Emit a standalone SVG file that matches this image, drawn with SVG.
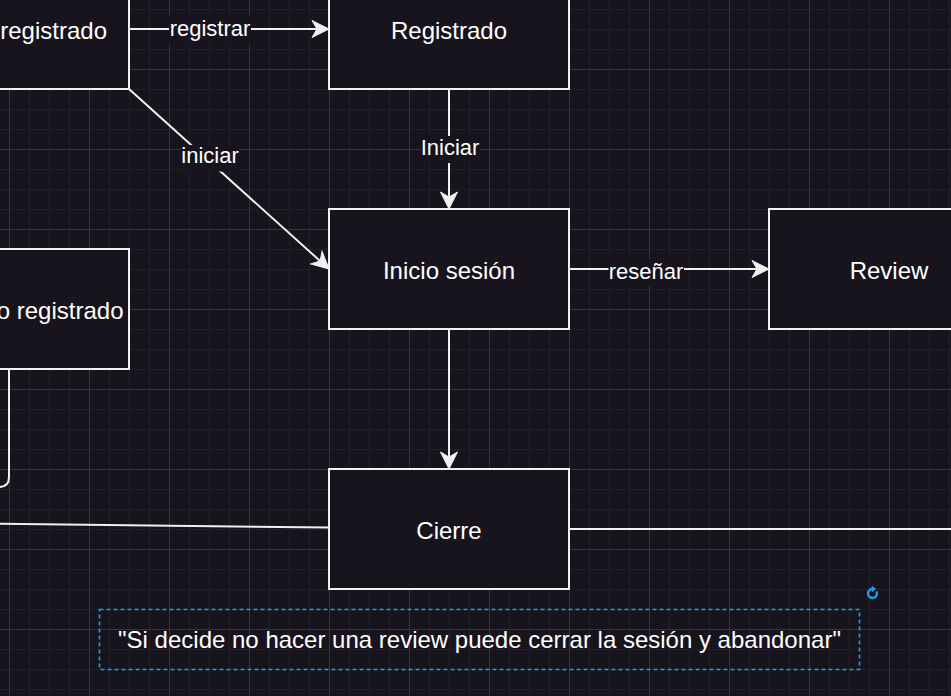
<svg xmlns="http://www.w3.org/2000/svg" width="951" height="696" viewBox="0 0 951 696">
  <style>
    .box { fill: #18141d; stroke: #f0f0f0; stroke-width: 2; }
    .lbl { font-family: "Liberation Sans", Arial, Helvetica, sans-serif; font-size: 24px; fill: #ffffff; text-anchor: middle; }
    .elbl { font-family: "Liberation Sans", Arial, Helvetica, sans-serif; font-size: 22px; fill: #ffffff; text-anchor: middle; }
    .edge { fill: none; stroke: #f0f0f0; stroke-width: 2; }
    .arr { marker-end: url(#arrow); }
    .lblbg { fill: #18141d; }
    .sel { fill: none; stroke: #1e9fe3; }
  </style>
  <defs>
    <pattern id="minor" patternUnits="userSpaceOnUse" x="9" y="9" width="20" height="20">
      <rect x="0" y="0" width="20" height="1" fill="#221f27"/>
      <rect x="0" y="0" width="1" height="20" fill="#221f27"/>
    </pattern>
    <pattern id="major" patternUnits="userSpaceOnUse" x="9" y="69" width="80" height="80">
      <rect x="0" y="0" width="80" height="1" fill="#37343c"/>
      <rect x="0" y="0" width="1" height="80" fill="#37343c"/>
    </pattern>
    <marker id="arrow" markerUnits="userSpaceOnUse" viewBox="-18 -10 20 20" markerWidth="20" markerHeight="20" refX="-12" refY="0" orient="auto">
      <path d="M0,0 L-17,-8.5 L-12,0 L-17,8.5 Z" fill="#f0f0f0" stroke="#f0f0f0" stroke-width="1" stroke-linejoin="miter"/>
    </marker>
  </defs>

  <rect x="0" y="0" width="951" height="696" fill="#18141d"/>
  <rect x="0" y="0" width="951" height="696" fill="url(#minor)"/>
  <rect x="0" y="0" width="951" height="696" fill="url(#major)"/>

  <g id="connectors">
    <path class="edge arr" d="M129,29 L317,29"/>
    <path class="edge arr" d="M129,89 L320.1,261"/>
    <path class="edge arr" d="M449,89 L449,197"/>
    <path class="edge arr" d="M569,269 L757,269"/>
    <path class="edge arr" d="M449,329 L449,457"/>
    <path class="edge" d="M9,369 L9,477 Q9,487 -1,487 L-20,487"/>
    <path class="edge" d="M-5,523.8 L329,527.6"/>
    <path class="edge" d="M569,529 L960,529"/>

    <rect class="lblbg" x="169" y="17" width="82" height="27"/>
    <text class="elbl" x="210" y="35.5">registrar</text>
    <rect class="lblbg" x="181" y="145" width="58" height="26.5"/>
    <text class="elbl" x="210" y="163">iniciar</text>
    <rect class="lblbg" x="420.5" y="136" width="59" height="27"/>
    <text class="elbl" x="450" y="155">Iniciar</text>
    <rect class="lblbg" x="608.5" y="259" width="75.5" height="27"/>
    <text class="elbl" x="646" y="278.5">reseñar</text>
  </g>

  <g id="node-usuario-registrado-top">
    <rect class="box" x="-111" y="-31" width="240" height="120"/>
    <text class="lbl" x="107" y="38.5" style="text-anchor:end">registrado</text>
  </g>

  <g id="node-registrado">
    <rect class="box" x="329" y="-31" width="240" height="120"/>
    <text class="lbl" x="449" y="38.5">Registrado</text>
  </g>

  <g id="node-inicio-sesion">
    <rect class="box" x="329" y="209" width="240" height="120"/>
    <text class="lbl" x="449" y="278.5">Inicio sesión</text>
  </g>

  <g id="node-review">
    <rect class="box" x="769" y="209" width="240" height="120"/>
    <text class="lbl" x="889" y="278.5">Review</text>
  </g>

  <g id="node-no-registrado">
    <rect class="box" x="-111" y="249" width="240" height="120"/>
    <text class="lbl" x="123.5" y="318.5" style="text-anchor:end">o registrado</text>
  </g>

  <g id="node-cierre">
    <rect class="box" x="329" y="469" width="240" height="120"/>
    <text class="lbl" x="449" y="538.5">Cierre</text>
  </g>

  <g id="node-nota">
    <rect class="sel" x="99.5" y="609.5" width="760" height="60" stroke-width="1.6" stroke-dasharray="4 3"/>
    <text class="lbl" x="479.5" y="647.5">"Si decide no hacer una review puede cerrar la sesión y abandonar"</text>
    <g id="rotate-handle">
      <path class="sel" d="M876.4,591.3 A4.5,4.5 0 1,1 872.3,589" stroke-width="2.4"/>
      <path d="M876.2,589 L871.8,585.8 L871.8,592.2 Z" fill="#1e9fe3"/>
    </g>
  </g>
</svg>
